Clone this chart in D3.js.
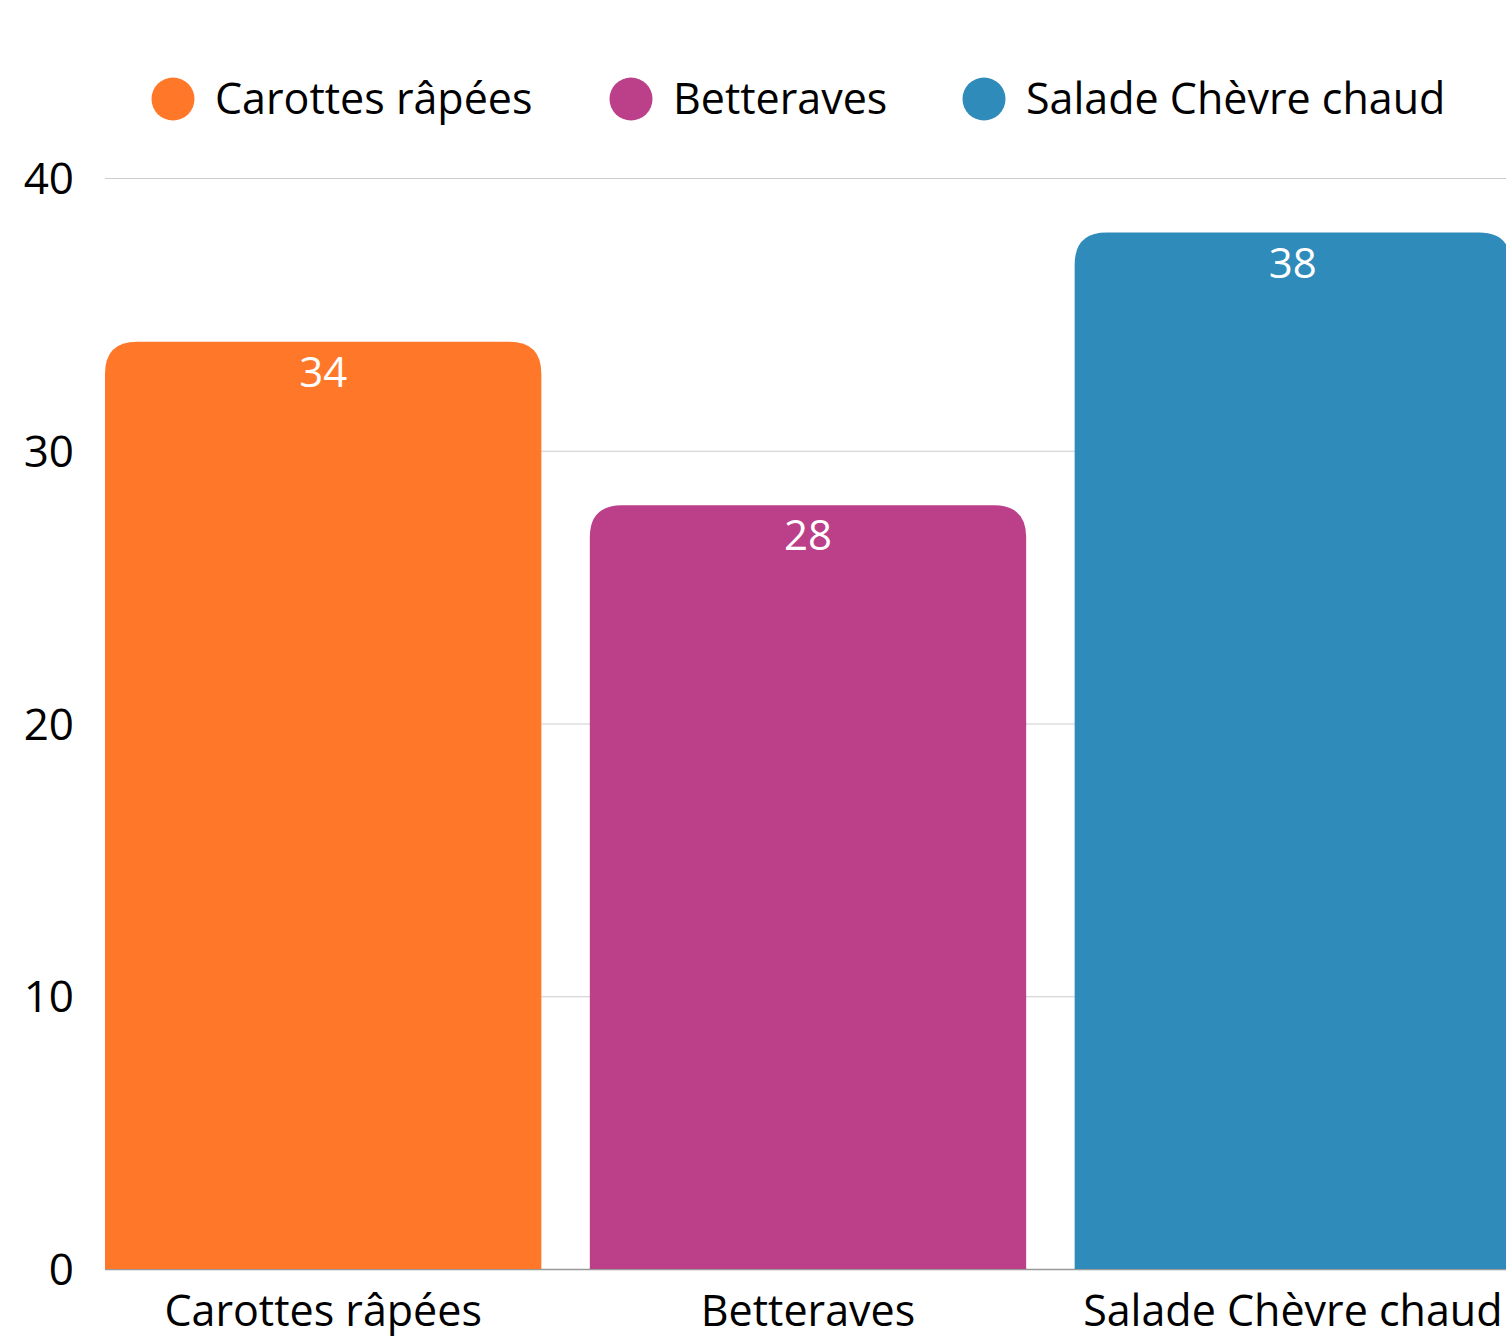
<!DOCTYPE html>
<html>
<head>
<meta charset="utf-8">
<script src="https://cdn.jsdelivr.net/npm/d3@7"></script>
<style>
  body { margin: 0; background: #fff; }
  svg { display: block; font-family: "Open Sans", "Noto Sans", sans-serif; }
</style>
</head>
<body>
<svg id="chart" width="1506" height="1336"></svg>
<script>
const categories = ["Carottes râpées", "Betteraves", "Salade Chèvre chaud"];
const values = [34, 28, 38];
const colors = ["#ff7829", "#bc3f8a", "#2e8bba"];
const yTicks = [0, 10, 20, 30, 40];

const svg = d3.select("#chart");
const plotLeft = 105, plotRight = 1511, plotTop = 178, plotBottom = 1269;

const x = d3.scaleBand().domain(categories).range([plotLeft, plotRight]).paddingInner(0.1).paddingOuter(0);
const y = d3.scaleLinear().domain([0, 40]).range([plotBottom, plotTop]);

// grid
svg.append("g").selectAll("line")
  .data(yTicks.filter(d => d > 0))
  .join("line")
  .attr("x1", plotLeft).attr("x2", 1506)
  .attr("y1", d => y(d) + 0.5).attr("y2", d => y(d) + 0.5)
  .attr("stroke", "#cccccc").attr("stroke-width", 1);

// baseline
svg.append("line")
  .attr("x1", plotLeft).attr("x2", 1506)
  .attr("y1", plotBottom + 0.5).attr("y2", plotBottom + 0.5)
  .attr("stroke", "#999").attr("stroke-width", 1.5);

// y labels
svg.append("g").selectAll("text")
  .data(yTicks)
  .join("text")
  .attr("x", 74).attr("y", d => y(d) + 16)
  .attr("text-anchor", "end")
  .attr("font-size", 44).attr("fill", "#000")
  .text(d => d);

// bars with rounded tops
const r = 32;
function barPath(x0, w, yTop, yBot) {
  return `M${x0},${yBot}V${yTop + r}Q${x0},${yTop} ${x0 + r},${yTop}H${x0 + w - r}Q${x0 + w},${yTop} ${x0 + w},${yTop + r}V${yBot}Z`;
}
svg.append("g").selectAll("path")
  .data(categories)
  .join("path")
  .attr("d", (c, i) => barPath(x(c), x.bandwidth(), y(values[i]), plotBottom))
  .attr("fill", (c, i) => colors[i]);

// value labels
svg.append("g").selectAll("text")
  .data(categories)
  .join("text")
  .attr("x", c => x(c) + x.bandwidth() / 2)
  .attr("y", (c, i) => y(values[i]) + 45)
  .attr("text-anchor", "middle")
  .attr("font-size", 42).attr("fill", "#fff")
  .text((c, i) => values[i]);

// category labels
svg.append("g").selectAll("text")
  .data(categories)
  .join("text")
  .attr("x", c => x(c) + x.bandwidth() / 2)
  .attr("y", 1326)
  .attr("text-anchor", "middle")
  .attr("font-size", 43).attr("fill", "#000")
  .text(c => c);

// legend
const legendX = [173, 631, 984];
const lg = svg.append("g").selectAll("g")
  .data(categories)
  .join("g")
  .attr("transform", (c, i) => `translate(${legendX[i]},99)`);
lg.append("circle").attr("r", 21.5).attr("fill", (c, i) => colors[i]);
lg.append("text")
  .attr("x", 42).attr("y", 15)
  .attr("font-size", 43).attr("fill", "#000")
  .text(c => c);
</script>
</body>
</html>
